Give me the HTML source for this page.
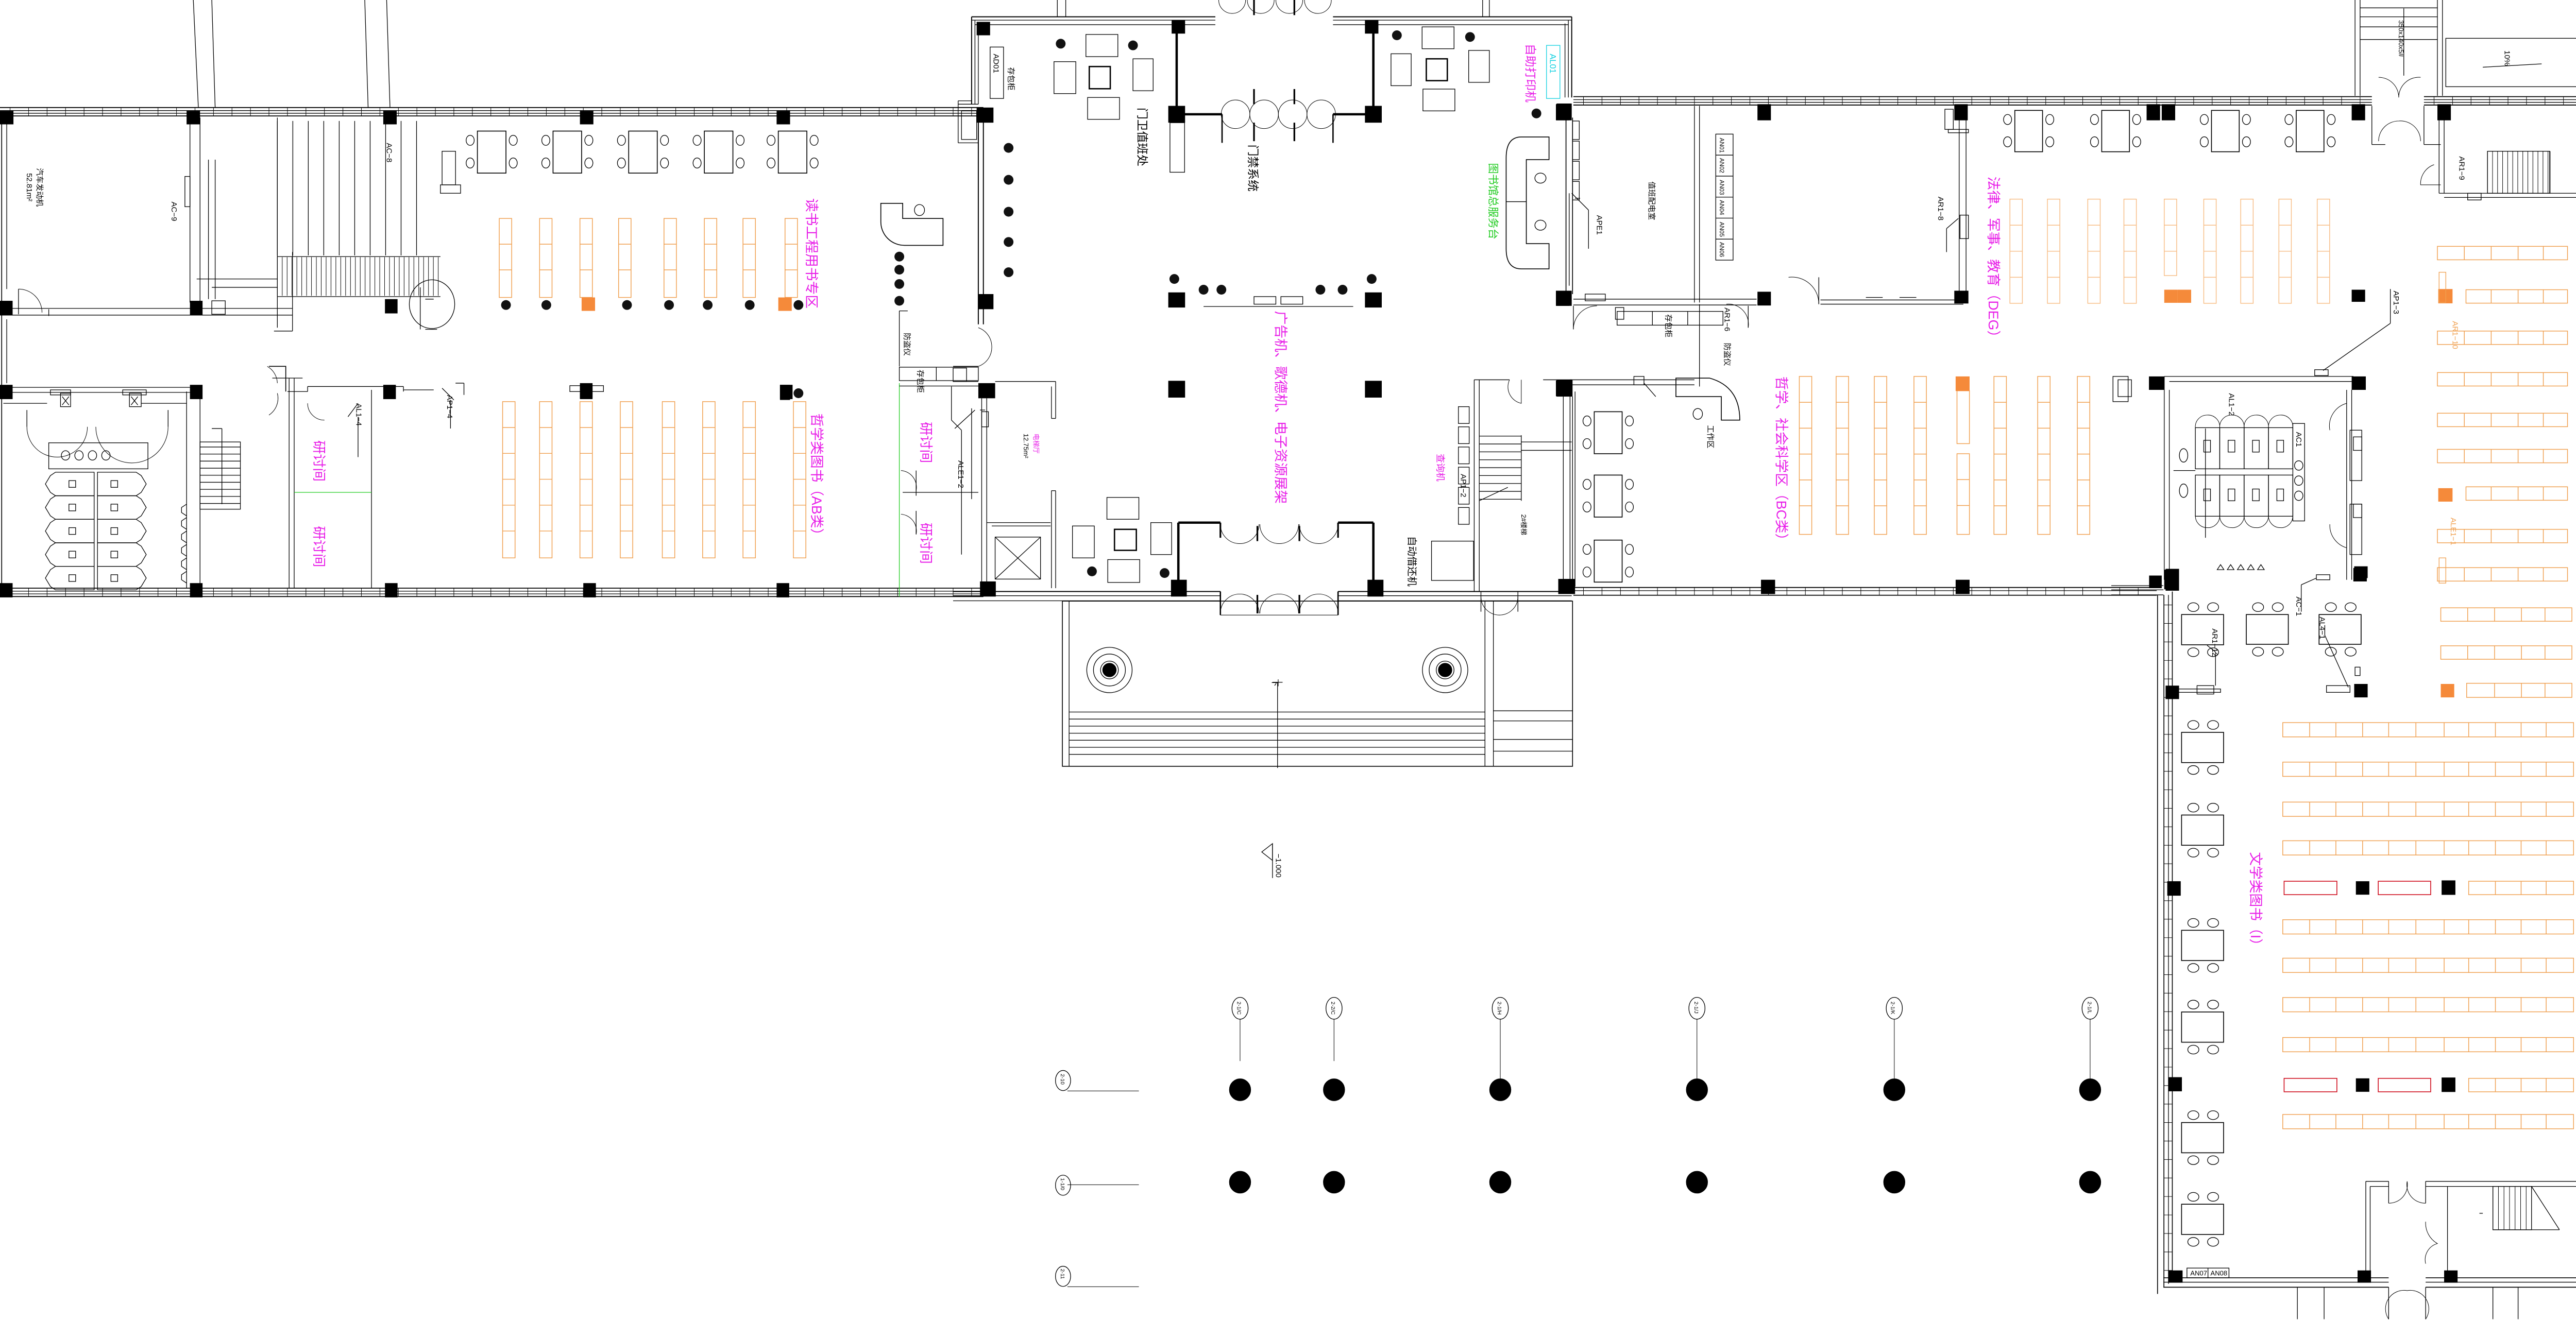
<!DOCTYPE html>
<html><head><meta charset="utf-8"><style>
html,body{margin:0;padding:0;background:#fff;}
svg{display:block;}
text{font-family:"Liberation Sans","Noto Sans CJK SC",sans-serif;}
.m{fill:#e81ee8;font-size:8.2px;}
.k{fill:#000;font-size:4.6px;}
.g{fill:#22cc22;font-size:6.5px;}
.c{fill:#10d0e0;font-size:5px;}
.o{fill:#f0a050;font-size:4.6px;}
</style></head><body>
<svg id="s" xmlns="http://www.w3.org/2000/svg" width="5116" height="2563" viewBox="0 0 1568 785.5" preserveAspectRatio="none">
<rect x="0" y="0" width="1568" height="785.5" fill="#fff"/>
<g id="g" fill="none" stroke="#000" stroke-width="0.4"></g>

<!-- left wing labels -->
<text class="k" transform="translate(22,100) rotate(90)">汽车发动机</text>
<text class="k" transform="translate(16,103) rotate(90)">52.81m²</text>
<text class="k" transform="translate(102,120) rotate(90)">AC−9</text>
<text class="k" transform="translate(230,85) rotate(90)">AC−8</text>
<text class="m" transform="translate(480,118) rotate(90)">读书工程用书专区</text>
<text class="k" transform="translate(538,198) rotate(90)">防盗仪</text>
<text class="k" transform="translate(546,220) rotate(90)">存包柜</text>
<text class="k" transform="translate(212,240) rotate(90)">AL1−4</text>
<text class="k" transform="translate(266,235) rotate(90)">AP1−4</text>
<text class="m" transform="translate(187,262) rotate(90)">研讨间</text>
<text class="m" transform="translate(187,313) rotate(90)">研讨间</text>
<text class="m" transform="translate(548,251) rotate(90)">研讨间</text>
<text class="m" transform="translate(548,311) rotate(90)">研讨间</text>
<text class="m" transform="translate(483,246) rotate(90)">哲学类图书（AB类）</text>
<text class="k" transform="translate(570,274) rotate(90)">ALE1−2</text>

<!-- lobby labels -->
<text class="k" transform="translate(591,32) rotate(90)">AD01</text>
<text class="k" transform="translate(600,40) rotate(90)">存包柜</text>
<text class="k" style="font-size:7px" transform="translate(677,64) rotate(90)">门卫值班处</text>
<text class="k" style="font-size:7px" transform="translate(743,86) rotate(90)">门禁系统</text>
<text class="c" transform="translate(922,32) rotate(90)">AL01</text>
<text class="m" style="font-size:7px" transform="translate(908,26) rotate(90)">自助打印机</text>
<text class="g" transform="translate(886,97) rotate(90)">图书馆总服务台</text>
<text class="k" transform="translate(950,128) rotate(90)">APE1</text>
<text class="m" transform="translate(759,185) rotate(90)">广告机、歌德机、电子资源展架</text>
<text class="m" style="font-size:4px" transform="translate(615,258) rotate(90)">电梯厅</text>
<text class="k" style="font-size:4px" transform="translate(609,258) rotate(90)">12.75m²</text>
<text class="m" style="font-size:5.5px" transform="translate(855,270) rotate(90)">查询机</text>
<text class="k" transform="translate(869,282) rotate(90)">AP1−2</text>
<text class="k" style="font-size:6px" transform="translate(838,319) rotate(90)">自动借还机</text>
<text class="k" style="font-size:4px" transform="translate(905,306) rotate(90)">2#楼梯</text>
<text class="k" transform="translate(757,404) rotate(90)">下</text>

<!-- right upper labels -->
<text class="k" transform="translate(981,108) rotate(90)">值班配电室</text>
<text class="k" style="font-size:3.6px" transform="translate(1023,82) rotate(90)">AN01</text>
<text class="k" style="font-size:3.6px" transform="translate(1023,94) rotate(90)">AN02</text>
<text class="k" style="font-size:3.6px" transform="translate(1023,107) rotate(90)">AN03</text>
<text class="k" style="font-size:3.6px" transform="translate(1023,119) rotate(90)">AN04</text>
<text class="k" style="font-size:3.6px" transform="translate(1023,132) rotate(90)">AN05</text>
<text class="k" style="font-size:3.6px" transform="translate(1023,144) rotate(90)">AN06</text>
<text class="k" transform="translate(1153,117) rotate(90)">AR1−8</text>
<text class="m" transform="translate(1183,105) rotate(90)">法律、军事、教育（DEG）</text>
<text class="k" transform="translate(1424,173) rotate(90)">AP1−3</text>
<text class="k" transform="translate(1463,93) rotate(90)">AR1−9</text>
<text class="k" style="font-size:4px" transform="translate(1535,84) rotate(90)">3#楼梯</text>
<text class="k" style="font-size:4px" transform="translate(1427,12) rotate(90)">350x140x5#</text>
<text class="k" transform="translate(1490,30) rotate(90)">10%</text>
<text class="k" transform="translate(991,187) rotate(90)">存包柜</text>
<text class="k" transform="translate(1026,204) rotate(90)">防盗仪</text>
<text class="k" transform="translate(1026,183) rotate(90)">AR1−6</text>
<text class="k" transform="translate(1016,253) rotate(90)">工作区</text>
<text class="m" transform="translate(1057,224) rotate(90)">哲学、社会科学区（BC类）</text>
<text class="k" transform="translate(1326,234) rotate(90)">AL1−2</text>
<text class="k" transform="translate(1366,257) rotate(90)">AC1</text>
<text class="o" transform="translate(1459,191) rotate(90)">AR1−10</text>
<text class="o" transform="translate(1458,308) rotate(90)">ALE1−1</text>
<text class="m" transform="translate(1537,234) rotate(90)">综合类图书区（HKNPRZ）</text>

<!-- right wing labels -->
<text class="k" transform="translate(1366,355) rotate(90)">AC−1</text>
<text class="k" transform="translate(1380,367) rotate(90)">AL4−1</text>
<text class="k" transform="translate(1316,374) rotate(90)">AR1−12</text>
<text class="k" transform="translate(1539,378) rotate(90)">AR1−11</text>
<text class="m" transform="translate(1339,507) rotate(90)">文学类图书（I）</text>
<text class="k" style="font-size:4px" transform="translate(1303,759)">AN07</text>
<text class="k" style="font-size:4px" transform="translate(1315,759)">AN08</text>
<text class="k" style="font-size:4px" transform="translate(1536,722) rotate(90)">4#楼梯</text>

<!-- grid labels -->
<text class="k" style="font-size:4.6px" transform="translate(759,508) rotate(90)">−1.000</text>
<text class="k" style="font-size:3.2px" transform="translate(736,596) rotate(90)">2-1/C</text>
<text class="k" style="font-size:3.2px" transform="translate(792,596) rotate(90)">2-2/C</text>
<text class="k" style="font-size:3.2px" transform="translate(891,596) rotate(90)">2-1/H</text>
<text class="k" style="font-size:3.2px" transform="translate(1008,596) rotate(90)">2-1/J</text>
<text class="k" style="font-size:3.2px" transform="translate(1125,596) rotate(90)">2-1/K</text>
<text class="k" style="font-size:3.2px" transform="translate(1242,596) rotate(90)">2-1/L</text>
<text class="k" style="font-size:3.2px" transform="translate(631,639) rotate(90)">2-10</text>
<text class="k" style="font-size:3.2px" transform="translate(631,701) rotate(90)">1-1/0</text>
<text class="k" style="font-size:3.2px" transform="translate(631,755) rotate(90)">2-11</text>
</svg>
<script>
const g=document.getElementById('g');
const NS='http://www.w3.org/2000/svg';
function el(t,a){const e=document.createElementNS(NS,t);for(const k in a)e.setAttribute(k,a[k]);g.appendChild(e);return e;}
function R(x,y,w,h,o){return el('rect',Object.assign({x:x,y:y,width:w,height:h},o||{}));}
function L(x1,y1,x2,y2,o){return el('line',Object.assign({x1:x1,y1:y1,x2:x2,y2:y2},o||{}));}
function P(d,o){return el('path',Object.assign({d:d},o||{}));}
function E(cx,cy,rx,ry,o){return el('ellipse',Object.assign({cx:cx,cy:cy,rx:rx,ry:ry},o||{}));}
function col(x,y,w,h){R(x,y,w||8,h||8,{fill:'#000',stroke:'none'});}
function wallH(x1,x2,y){L(x1,y,x2,y,{'stroke-width':0.55});L(x1,y+1.8,x2,y+1.8);L(x1,y+3.4,x2,y+3.4);L(x1,y+5,x2,y+5,{'stroke-width':0.55});
  for(let x=x1+6;x<x2;x+=11){L(x,y,x,y+5,{'stroke-width':0.3});}}
function wallV(x,y1,y2){L(x,y1,x,y2,{'stroke-width':0.55});L(x+1.8,y1,x+1.8,y2);L(x+3.4,y1,x+3.4,y2);L(x+5,y1,x+5,y2,{'stroke-width':0.55});
  for(let y=y1+6;y<y2;y+=11){L(x,y,x+5,y,{'stroke-width':0.3});}}
const OR='#f0a050', OR2='#f7bd85';
function shelfV(x,y,h,segH,c){R(x,y,7.4,h,{stroke:c||OR,'stroke-width':0.45});for(let yy=y+segH;yy<y+h-2;yy+=segH)L(x,yy,x+7.4,yy,{stroke:c||OR,'stroke-width':0.45});}
function shelfH(x,y,w,segs,h){h=h||8;R(x,y,w,h,{stroke:OR,'stroke-width':0.45});segs.forEach(s=>L(s,y,s,y+h,{stroke:OR,'stroke-width':0.45}));}
function tree(x,y){el('circle',{cx:x,cy:y,r:2.9,fill:'#111',stroke:'none'});}
function sq(x,y,w,h){R(x,y,w||8,h||8,{fill:'#f58a3a',stroke:'none'});}
function tableV(x,y,w,h){R(x,y,w,h,{'stroke-width':0.5});[y+h*0.22,y+h*0.76].forEach(cy=>{E(x-4.3,cy,2.4,3);E(x+w+4.3,cy,2.4,3);});}
function tableH(x,y,w,h){R(x,y,w,h,{'stroke-width':0.5});[x+w*0.28,x+w*0.75].forEach(cx=>{E(cx,y-4.4,3.3,2.6);E(cx,y+h+4.4,3.3,2.6);});}
function arc(x,y,r,sweep,dir){ // door arc quarter
  P(dir);}

/* ================= LEFT WING ================= */
wallH(0,585,64);
wallH(0,585,350);
// exterior lines at top
L(115,0,118,64);L(126,0,128,64);L(217,0,219,64);L(230,0,232,64);
// left outer wall
L(1,69,1,350,{'stroke-width':0.5});L(4,69,4,172);L(4,190,4,228);
// columns
[[0,66],[111,66],[228,66],[345,66],[462,66]].forEach(c=>col(c[0],c[1],8,8));
[[0,179],[113,179],[229,178],[0,229],[113,229],[228,229],[345,229],[464,229],[0,347],[113,347],[229,347],[347,347],[462,347]].forEach(c=>col(c[0],c[1],7.5,8.5));
// left room
L(113,70,113,180);L(119,70,119,180);L(124,95,124,178);L(128,95,128,178);R(110,105,3,18);
L(0,183.5,174,183.5);L(0,187.5,174,187.5);L(29,184,29,188);
P('M11,172 A14,14 0 0 1 25,186',{'stroke-width':0.3});L(11,172,11,187);
// stair upper left
L(165,70,165,195);L(174,150,174,197);L(163,197,174,197);
for(let x=165;x<=256;x+=9.2)L(x,72,x,152);
for(let x=165;x<=262;x+=2.9)L(x,153,x,176,{'stroke-width':0.3});
L(165,152.7,262,152.7);L(165,176.5,262,176.5);
L(117,166,165,166);L(126,171,165,171);
R(126,179,8,8);
E(257,181,13.5,14.5);L(250,171,250,196);L(253,178,258,178);L(253,196,260,196);
// tables top
[284,329,374,419,463].forEach(x=>tableV(x,78,17,25));
R(263,90,8,20);R(262,110,12,5);
// shelves top
[297,321,345,368,395,419,442,467].forEach(x=>shelfV(x,130,47,15.3));
sq(346,177);sq(463,177);
[301,325,373,398,421,446,475].forEach(x=>tree(x,181.5));
// reception L
P('M524,121 L537,121 L537,130 L561,130 L561,146 L538,146 A14,14 0 0 1 524,132 Z',{'stroke-width':0.5});
E(547,125,3,3.3);
[152.7,160.5,169,179].forEach(y=>tree(535,y));
L(535,185,540,185);L(535,185,535,218);
// corridor walls
L(0,230.5,113,230.5);L(0,233.5,113,233.5);
R(30,232,12,3);R(36,234,6,8);R(73,232,14,3);R(77,234,7,8);
L(37,236,41,241);L(41,236,37,241);L(78,236,82,241);L(82,236,78,241);
P('M160,218 L170,218 L170,233',{'stroke-width':0.5});L(162,225,180,225);L(171,233,183,233);L(183,233,183,230);L(183,230,240,230);L(240,230,240,233);L(240,232,258,232);
L(172,225,172,350);L(175,225,175,350);L(221,232,221,350);
P('M183,240 A10,10 0 0 0 193,250',{'stroke-width':0.3});
P('M159,218 A12,12 0 0 1 165,228',{'stroke-width':0.3});P('M165,234 A12,12 0 0 1 160,247',{'stroke-width':0.3});
L(175,293,221,293,{stroke:'#22cc22'});L(535,228,535,355,{stroke:'#22cc22'});
L(271,228,276,228);L(276,228,276,235);L(263,231,270,238);L(268,238,268,255);
L(213,240,207,248);L(213,248,213,272);
// toilet
L(111,233,111,350);L(119,233,119,350);
L(2,240,28,240);L(84,240,111,240);
P('M16,254 A18,18 0 0 0 52,254',{'stroke-width':0.3});P('M57,254 A18,18 0 0 0 100,254',{'stroke-width':0.3});
L(16,244,16,254);L(100,244,100,254);
R(29,263.5,59,15.5);[36,44,52,60].forEach(x=>E(x+3,271,2.5,2.8));
for(let r=0;r<5;r++){const y=281+r*14;
 P(`M30,${y+2} L33,${y} L56,${y} L56,${y+14} L33,${y+14} L30,${y+12} L27,${y+7} Z`);
 P(`M58,${y} L81,${y} L84,${y+2} L87,${y+7} L84,${y+12} L81,${y+14} L58,${y+14} Z`);
 R(41,y+5,4,4);R(66,y+5,4,4);}
// small stair lower left
R(119,263,24,40);for(let y=266;y<300;y+=4.2)L(119,y,143,y);L(132,255,132,300);L(126,255,132,255);
for(let y=300;y<345;y+=8)P(`M111,${y} l-3,2 l0,3 l3,2`);
// bottom shelves
[299,321,345,369,394,418,442,472].forEach(x=>shelfV(x,239,93,15.4));
col(345,228,7.5,9);R(339,229.5,20,3.5);col(464,229,6,9);tree(475,234);
// right portion of left wing near lobby
R(535,218.5,47,8);L(557,218.5,557,226.5);L(535,229.7,582,229.7);
L(566,230,566,250);L(566,250,572,256);L(572,256,572,330);
P('M536,280 A10,10 0 0 1 545,292',{'stroke-width':0.3});P('M536,306 A10,10 0 0 1 545,318',{'stroke-width':0.3});
L(545,280,545,295);L(545,304,545,318);L(537,293,582,293);
// lobby left wall
L(582,69,582,193,{'stroke-width':0.6});L(585,69,585,193,{'stroke-width':0.6});
P('M582,195 A12,12 0 0 1 590,206 A12,12 0 0 1 582,218',{'stroke-width':0.3});

/* ================= LOBBY ================= */
// top wall
L(578,10,723,10,{'stroke-width':0.6});L(578,12,723,12);L(580,14.7,723,14.7);
L(793,10,935,10,{'stroke-width':0.6});L(793,12,935,12);L(793,14.7,933,14.7);
L(578,10,578,62,{'stroke-width':0.6});L(580,12,580,62);L(582,14,582,62);
L(935,10,935,58,{'stroke-width':0.6});L(933,12,933,58);L(931,14,931,58);
L(570,60,578,60);L(570,62,582,62);R(572,66,9,17);L(570,60,570,85);L(570,85,582,85);
L(629,0,629,10);L(634,0,634,10);L(882,0,882,10);L(886,0,886,10);
col(581,13);col(581,64,10,9);col(582,175,9,9);
// vestibule
col(697,12,8,8);col(812,12,8,8);col(695,63,10,10);col(812,63,10,10);
L(700,18,700,66,{'stroke-width':1.4});L(817,18,817,66,{'stroke-width':1.4});
L(700,68,727,68,{'stroke-width':1.4});L(793,68,816,68,{'stroke-width':1.4});
L(727,68,727,85,{'stroke-width':0.8});L(793,68,793,85,{'stroke-width':0.8});
[735,752,769,786].forEach(cx=>{P(`M${cx-8.5},${68} A8.5,8.5 0 0 1 ${cx+8.5},68`,{'stroke-width':0.3});P(`M${cx-8.5},${68} A8.5,8.5 0 0 0 ${cx+8.5},68`,{'stroke-width':0.3});});
[746,770].forEach(x=>{L(x,53,x,62,{'stroke-width':1});L(x,73,x,84,{'stroke-width':1});L(x,0,x,9,{'stroke-width':1});});
[733,750,767,784].forEach(cx=>P(`M${cx-8},0 A8,8 0 0 0 ${cx+8},0`,{'stroke-width':0.3}));
R(696,73,8.7,29.5);
// furniture top-left
R(646,20.5,19,13.2);R(627,36.7,13,19);R(648,39.6,12.5,13.2,{'stroke-width':0.8});R(674,35,12,19);R(647,58,19,13);
tree(631,26);tree(674,27);
R(589,28,8,30.6);
// furniture top-right
R(846,16,19,13);R(827.5,32,12,19);R(848.5,35,12.5,13,{'stroke-width':0.8});R(873.7,30,12.3,19);R(846.5,53,19,13);
tree(831,21);tree(874.5,22);tree(914,67.5);
R(920,27,8,31.6,{stroke:'#10d0e0'});
// service desk
P('M905,81.5 L921.5,81.5 L921.5,95 L908,95 L908,145 L921.5,145 L921.5,160 L905,160 Q896,160 896,148 L896,94 Q896,81.5 905,81.5 Z',{'stroke-width':0.5});
L(896,120,908,120);E(916.4,106,3.3,3);E(916.4,134,3.3,3);
// lobby right wall
L(931.6,70,931.6,175,{'stroke-width':0.5});L(935.5,70,935.5,175,{'stroke-width':0.5});L(933.5,115,933.5,170);
[72,84,96,108].forEach(y=>R(935.5,y,4,11));
col(926,61.6,9,10);col(926,173,9,9);
L(935,115,945,125);L(945,125,945,148);L(937,118,940,118);
// left column trees
[88,107,126,144,162].forEach(y=>tree(600,y));
// middle
tree(698.6,166);tree(716,172.4);tree(726.6,172.4);tree(785.5,172.4);tree(798.7,172.4);tree(816,166);
col(695,174,10,9);col(812,174,10,9);L(716,182.4,805,182.4);R(746,176.5,13,4.5);R(762,176.5,13,4.5);
col(695,226.6,10,10);col(812,226.6,10,10);
// elevator hall
L(567,218,582,218);L(567,227,582,227);R(567,219,8,8);
col(582,228,10,9);L(584,237,584,346);L(587,237,587,346);
L(592,227,628,227);L(628,227,628,249);L(625.5,230,625.5,249);L(625.5,249,628,249);
L(625.5,292,628,292);L(625.5,292,625.5,350);L(628,292,628,350);
L(568,255,580,244);L(578,243,578,297);L(583,244,586,244);R(584,245,4,9);
L(587,311,625,311);L(590,313,625,313);
R(592,319.6,27,25);L(592,319.6,619,344.6);L(619,319.6,592,344.6);
col(583,346,9.4,9);
// bottom furniture
R(658.5,296,19,13);R(638,313,13,19);R(663,315,13,12.5,{'stroke-width':0.8});R(684.6,311,12.4,19);R(659,333,19,13.6);
tree(649.6,340);tree(692.8,341);
// bottom vestibule
L(701,311,701,349,{'stroke-width':1.4});L(701,311,726,311,{'stroke-width':1.4});L(726,311,726,320,{'stroke-width':1});
L(817,311,817,349,{'stroke-width':1.4});L(796,311,817,311,{'stroke-width':1.4});L(796,311,796,320,{'stroke-width':1});
[737.5,761,784.5].forEach(cx=>P(`M${cx-11.5},312 A11.5,11.5 0 0 0 ${cx+11.5},312`,{'stroke-width':0.3}));
[748,773].forEach(x=>{L(x,313,x,322,{'stroke-width':1});L(x,354,x,365,{'stroke-width':1});});
[737.5,761,784.5].forEach(cx=>P(`M${cx-11.5},365 A11.5,11.5 0 0 1 ${cx+11.5},365`,{'stroke-width':0.3}));
col(696.6,345,9.4,10);col(813.5,345,9.5,10);
L(726,352,726,366,{'stroke-width':0.8});L(796,352,796,366,{'stroke-width':0.8});L(726,366,796,366,{'stroke-width':0.3});
L(567,352,726,352,{'stroke-width':0.6});L(567,354.5,726,354.5);L(567,357.5,726,357.5);
L(796,352,935,352,{'stroke-width':0.6});L(796,354.5,935,354.5);L(796,357.5,935,357.5);
// entrance platform
R(632,357.7,303.5,98.3,{'stroke-width':0.5});L(636,357.7,636,456);
[[660,398.7],[859.7,398.7]].forEach(c=>{el('circle',{cx:c[0],cy:c[1],r:13.5});el('circle',{cx:c[0],cy:c[1],r:9.5});el('circle',{cx:c[0],cy:c[1],r:4,fill:'#000'});el('circle',{cx:c[0],cy:c[1],r:5.3});});
for(let i=0;i<7;i++){const y=423.7+i*4.2;L(636,y,883.4,y);}
L(883.4,357.7,883.4,456);L(888.4,357.7,888.4,456);
[423,429,440,447].forEach(y=>L(888.4,y,935.5,y));
L(760,406,760,457);L(757,406,763,406);
// 2# stair
L(877,226,877,352);L(880,226,880,352);L(877,226,898,226);L(918,226,935,226);
P('M898,226 A10,10 0 0 0 905,240 L905,226',{'stroke-width':0.3});
for(let i=0;i<9;i++){const y=259.5+i*4.7;L(880,y,905,y);}L(905,259,905,298);L(880,298,897,290);
L(905,263,935,263);L(905,268,935,268);
col(926,226,9.5,10);col(927,344.5,10,9);
L(930,236,930,345);L(935.5,236,935.5,345);
[242,254,266,278,290,302].forEach(y=>R(867.6,y,6.4,10));
R(851.6,322,25,23.4);
P('M881,355 A11,11 0 0 0 903,355',{'stroke-width':0.3});L(881,352,881,364);L(903,352,903,364);

/* ================= RIGHT UPPER ================= */
wallH(936,1411,57.5);wallH(1442,1568,57.5);
[[925.6,62],[1045.5,62],[1162.6,62],[1277,62],[1286,62],[1399,62],[1450,62],[1561,62]].forEach(c=>col(c[0],c[1],8,9.6));
// electrical room
L(1008,63,1008,180);L(1011,63,1011,180);L(936,178,1045,178);L(936,181.5,1045,181.5);
R(1020.7,79.8,10.3,75);[92.3,104.8,117.3,129.8,142.3].forEach(y=>L(1020.7,y,1031,y));
R(943,175,12,4);
col(925.6,173,8,9);
P('M936,196 A14,14 0 0 1 950,182',{'stroke-width':0.3});L(936,182,936,196);
// big room
L(1165.5,63,1165.5,180);L(1169.6,63,1169.6,180);R(1166,128,5,14);
L(1083,178.5,1168,178.5);L(1083,181,1168,181);L(1110,177,1120,177);L(1130,177,1140,177);
P('M1064,165 A16,16 0 0 1 1082,181',{'stroke-width':0.3});L(1082,165,1082,181);
col(1045.5,173.6,8,8.2);col(1162.6,173,8.4,7.6);
L(1158,136,1165,130);L(1158,136,1158,150);
R(961,183,5,7);R(962,185.3,63,8.2);L(983,185.3,983,193.5);L(1004,185.3,1004,193.5);L(1011,181,1011,230);
P('M1027,181 A12,12 0 0 1 1040,195',{'stroke-width':0.3});L(1040,182,1040,195);
// top tables right
[1198.6,1250.3,1315.6,1366].forEach(x=>tableV(x,65.7,16.5,24.6));
R(1157,65,5,12);R(1159,77,12,2);
// DEG shelves
[1195.7,1218,1242,1263.5,1287.5,1311,1333,1355.7,1378.5].forEach((x,i)=>shelfV(x,118.5,i==4?45.5:62,15.5,OR2));
sq(1287.5,172.4,8,7.8);sq(1295.5,172.4,8,7.8);
col(1399,172.4,8,7.2);
L(1422,192.4,1382,220.5);L(1422,192.4,1422,172);R(1377,220,8,3.5);
// top right stair & ramp
L(1401,0,1401,57);L(1404,0,1404,57);L(1450,0,1450,57);L(1453,0,1453,57);
[4.7,10,16,23.5].forEach(y=>L(1404,y,1450,y));L(1430,5,1430,45);
R(1455,22.8,85,28.8);L(1477,40,1512,38);
P('M1415,46 A12,12 0 0 1 1427,58 M1440,46 A12,12 0 0 0 1427,58',{'stroke-width':0.3});
P('M1415,84 A12,12 0 0 1 1427,72 M1440,84 A12,12 0 0 0 1427,72',{'stroke-width':0.3});
L(1411,63,1411,86);L(1411,86,1419,86);L(1442,63,1442,86);L(1442,86,1452,86);
// 3# stair room
L(1451,63,1451,115);L(1454,63,1454,115);L(1451,115,1568,115);L(1454,117.5,1568,117.5);
R(1479.8,90,37,25);for(let x=1479.8;x<1517;x+=3)L(x,90,x,115,{'stroke-width':0.3});L(1517,90,1517,115);
P('M1448,98 A12,12 0 0 0 1440,110 L1452,110',{'stroke-width':0.3});
R(1468,115,8,4);
// HKNPRZ shelves
const segR=[1466,1482,1498,1513];
[146.6,197,221.7,245.9,267.4,315,337.8].forEach((y,i)=>shelfH(1450,y,77.4,segR,8));
[172.4,289.7].forEach(y=>shelfH(1467,y,60.4,[1482,1498,1513],8));
sq(1450.5,172,8.5,8.5);sq(1450.5,290.5,8.5,8);
R(1451,162,4,18,{stroke:OR,'stroke-width':0.4});R(1451,332,4,15,{stroke:OR,'stroke-width':0.4});
col(1562,172,6,8);col(1562,290,6,8);
L(1566,63,1566,770,{'stroke-width':0.4});
// lower-left of right upper (tables)
col(925.6,226.4,8,9.4);
L(934,233,934,349);L(937,233,937,349);L(934,226,1008,226);L(934,229,1008,229);
[245,282.7,321.4].forEach(y=>tableV(948.4,y,16.6,25));
R(972,224,6,5);L(978,228,985,236);
P('M997,225 L1017,225 Q1035,230 1035,250 L1024,250 L1024,236 L997,236 Z',{'stroke-width':0.5});
E(1010,246.3,2.8,3.2);
// BC shelves
[1070.4,1092.3,1115,1138.6,1164.2,1186.2,1212.2,1235.8].forEach((x,i)=>{if(i==4){shelfV(x,232.5,31.5,31.5);shelfV(x,270,48,15.4);}else shelfV(x,224,94,15.4);});
sq(1163.4,224,8.3,8.7);
col(1047.6,345,8.4,8.5);col(1163.4,345,8.3,8.5);
L(936,349.6,1283,349.6,{'stroke-width':0.55});L(936,351.5,1283,351.5);L(936,354.2,1283,354.2,{'stroke-width':0.55});
for(let x=942;x<1283;x+=11)L(x,349.6,x,354.2,{'stroke-width':0.3});
// toilet block
col(1278.4,224,9,8);col(1399,224,8.4,8);col(1287.5,339,8.5,11.7);col(1400,338,8,8);
L(1287.5,224,1287.5,345);L(1290.5,232,1290.5,345);L(1287.5,224,1400,224);L(1290.5,227,1399,227);
R(1257,224,9,15);R(1260,226,8,10);
L(1399,232,1399,345);L(1396,232,1396,345);
for(let i=0;i<4;i++){const x=1306+i*14.5;R(x,254.5,14.5,24.5);R(x+5,262,4,7);R(x,282.7,14.5,24.5);R(x+5,291,4,7);
 P(`M${x},254.5 A7,7 0 0 1 ${x+7},247 A7,7 0 0 1 ${x+14.5},254.5`,{'stroke-width':0.3});
 P(`M${x},307 A7,7 0 0 0 ${x+7},314 A7,7 0 0 0 ${x+14.5},307`,{'stroke-width':0.3});}
R(1364,252,7,58);[277,286,295].forEach(y=>E(1367.5,y,2.5,2.8));
E(1299,271,2.5,4);E(1299,292,2.5,4);L(1293,280,1306,280);
R(1398,256,7,30);R(1398,300,7,30);R(1400,260,5,8);R(1400,300,5,8);
P('M1396,240 A14,14 0 0 0 1386,256',{'stroke-width':0.3});P('M1396,326 A14,14 0 0 1 1386,312',{'stroke-width':0.3});
for(let i=0;i<5;i++)P(`M${1319+i*6},339 l2,-3 l2,3 z`);
L(1312,255,1312,320);

/* ================= RIGHT WING ================= */
L(1256,348.5,1287,348.5);L(1256,351,1287,351);L(1256,354,1287,354);
L(1283.5,354,1283.5,770,{'stroke-width':0.5});L(1287.3,354,1287.3,766,{'stroke-width':0.5});L(1290,354,1290,764);L(1292.3,352,1292.3,762,{'stroke-width':0.5});
for(let y=360;y<760;y+=11)L(1287.3,y,1292.3,y,{'stroke-width':0.3});
col(1288.3,338.5,8,13);col(1278.5,342.5,7.5,7.5);col(1288.3,408,8,8);col(1289.3,524.4,8,8.6);col(1290,641,8,8.4);col(1290,756,8.4,7.3);
col(1402.5,756,8,7.3);col(1454,756,8,7.3);col(1400.5,337,8,7);col(1400.5,407,8,8);
R(1296,410,25,2);R(1307,408,10,5);L(1313,384,1318,388);L(1318,388,1318,408);
R(1384,408,14,4);L(1383,372,1383,378);L(1383,378,1397,409);R(1401,397,3,5);
L(1369,348,1378,344);L(1369,348,1369,364);R(1378,342,8,3);
R(1540,410,8,4);L(1541,395,1541,412);L(1548,412,1566,412);
// tables
[365.7,435.8,485,553.6,602.2,668,716.6].forEach(y=>tableH(1297.8,y,25,18));
tableH(1336.3,365.7,25,17.7);tableH(1379.6,365.7,25,17.7);
// shelves big rows
const segA=[1374,1389.6,1405.5,1421,1437.2,1454,1468.6,1484.5,1499.8,1514.7];
[430,453.5,477.3,500.3,547.3,570.2,593.6,617.4,663.2].forEach(y=>shelfH(1358,y,173,segA,8.5));
[361.7,384.3].forEach(y=>shelfH(1452,y,78,[1468,1484,1500,1514],8));
shelfH(1467.4,406.6,62.6,[1484,1500,1514],8.4);sq(1452,407,8,8);
[337.8].forEach(y=>{});
[524.4,641.7].forEach(y=>{R(1358.8,y,31.4,8,{stroke:'#d01020','stroke-width':0.5});R(1414.8,y,31.2,8,{stroke:'#d01020','stroke-width':0.5});
 col(1401.5,y,8,8);col(1452.5,y-0.5,8.2,8.6);shelfH(1468.6,y,62.4,[1484.5,1499.8,1514.7],8);col(1565,y,3,8);});
// bottom wall
L(1287,760.4,1421,760.4,{'stroke-width':0.5});L(1287,763,1421,763);L(1287,766,1421,766,{'stroke-width':0.5});
L(1443,760.4,1568,760.4,{'stroke-width':0.5});L(1443,763,1568,763);L(1443,766,1568,766,{'stroke-width':0.5});
R(1301,754.6,25,5.8);L(1313.5,754.6,1313.5,760.4);
// 4# stair room
L(1407.4,703,1407.4,760);L(1410,706,1410,760);L(1407.4,703,1421,703);L(1443,703,1568,703);L(1443,706,1568,706);L(1410,706,1421,706);
L(1421,703,1421,716);L(1443,703,1443,716);L(1456,706,1456,760);
R(1483,706,23,25.8);for(let x=1483;x<1506;x+=3.3)L(x,706,x,731.8,{'stroke-width':0.3});L(1506,706,1522.6,731.8);L(1483,731.8,1522.6,731.8);
L(1475,722,1477,722);
P('M1421,716 A11,11 0 0 0 1432,703 A11,11 0 0 0 1443,716',{'stroke-width':0.3});
P('M1443,727 A14,14 0 0 0 1450,740 A10,10 0 0 0 1443,752',{'stroke-width':0.3});
P('M1421,785 A11,11 0 0 1 1432,768 A11,11 0 0 1 1443,785',{'stroke-width':0.3});
L(1421,766,1421,785);L(1443,766,1443,785);
L(1366.7,766,1366.7,785);L(1382.6,766,1382.6,785);L(1483,766,1483,785);L(1498,766,1498,785);

/* ================= GRID ================= */
[737.7,793.6,892.5,1009.5,1126.9,1243.4].forEach((x,i)=>{
  E(x,600,4.8,6.5);L(x,606.5,x,i<2?631.4:642,{'stroke-width':0.3});
  E(x,648.5,6.3,6.5,{fill:'#000'});E(x,703.5,6.3,6.5,{fill:'#000'});});
[643,705.3,759.5].forEach((y,i)=>{E(632.4,y,4.5,6);L(635,[649.2,705,765.7][i],677.5,[649.2,705,765.7][i],{'stroke-width':0.3});});
P('M757,502 L750.6,507 L757,512 Z');L(757,502,757,522.5);
</script>
</body></html>
